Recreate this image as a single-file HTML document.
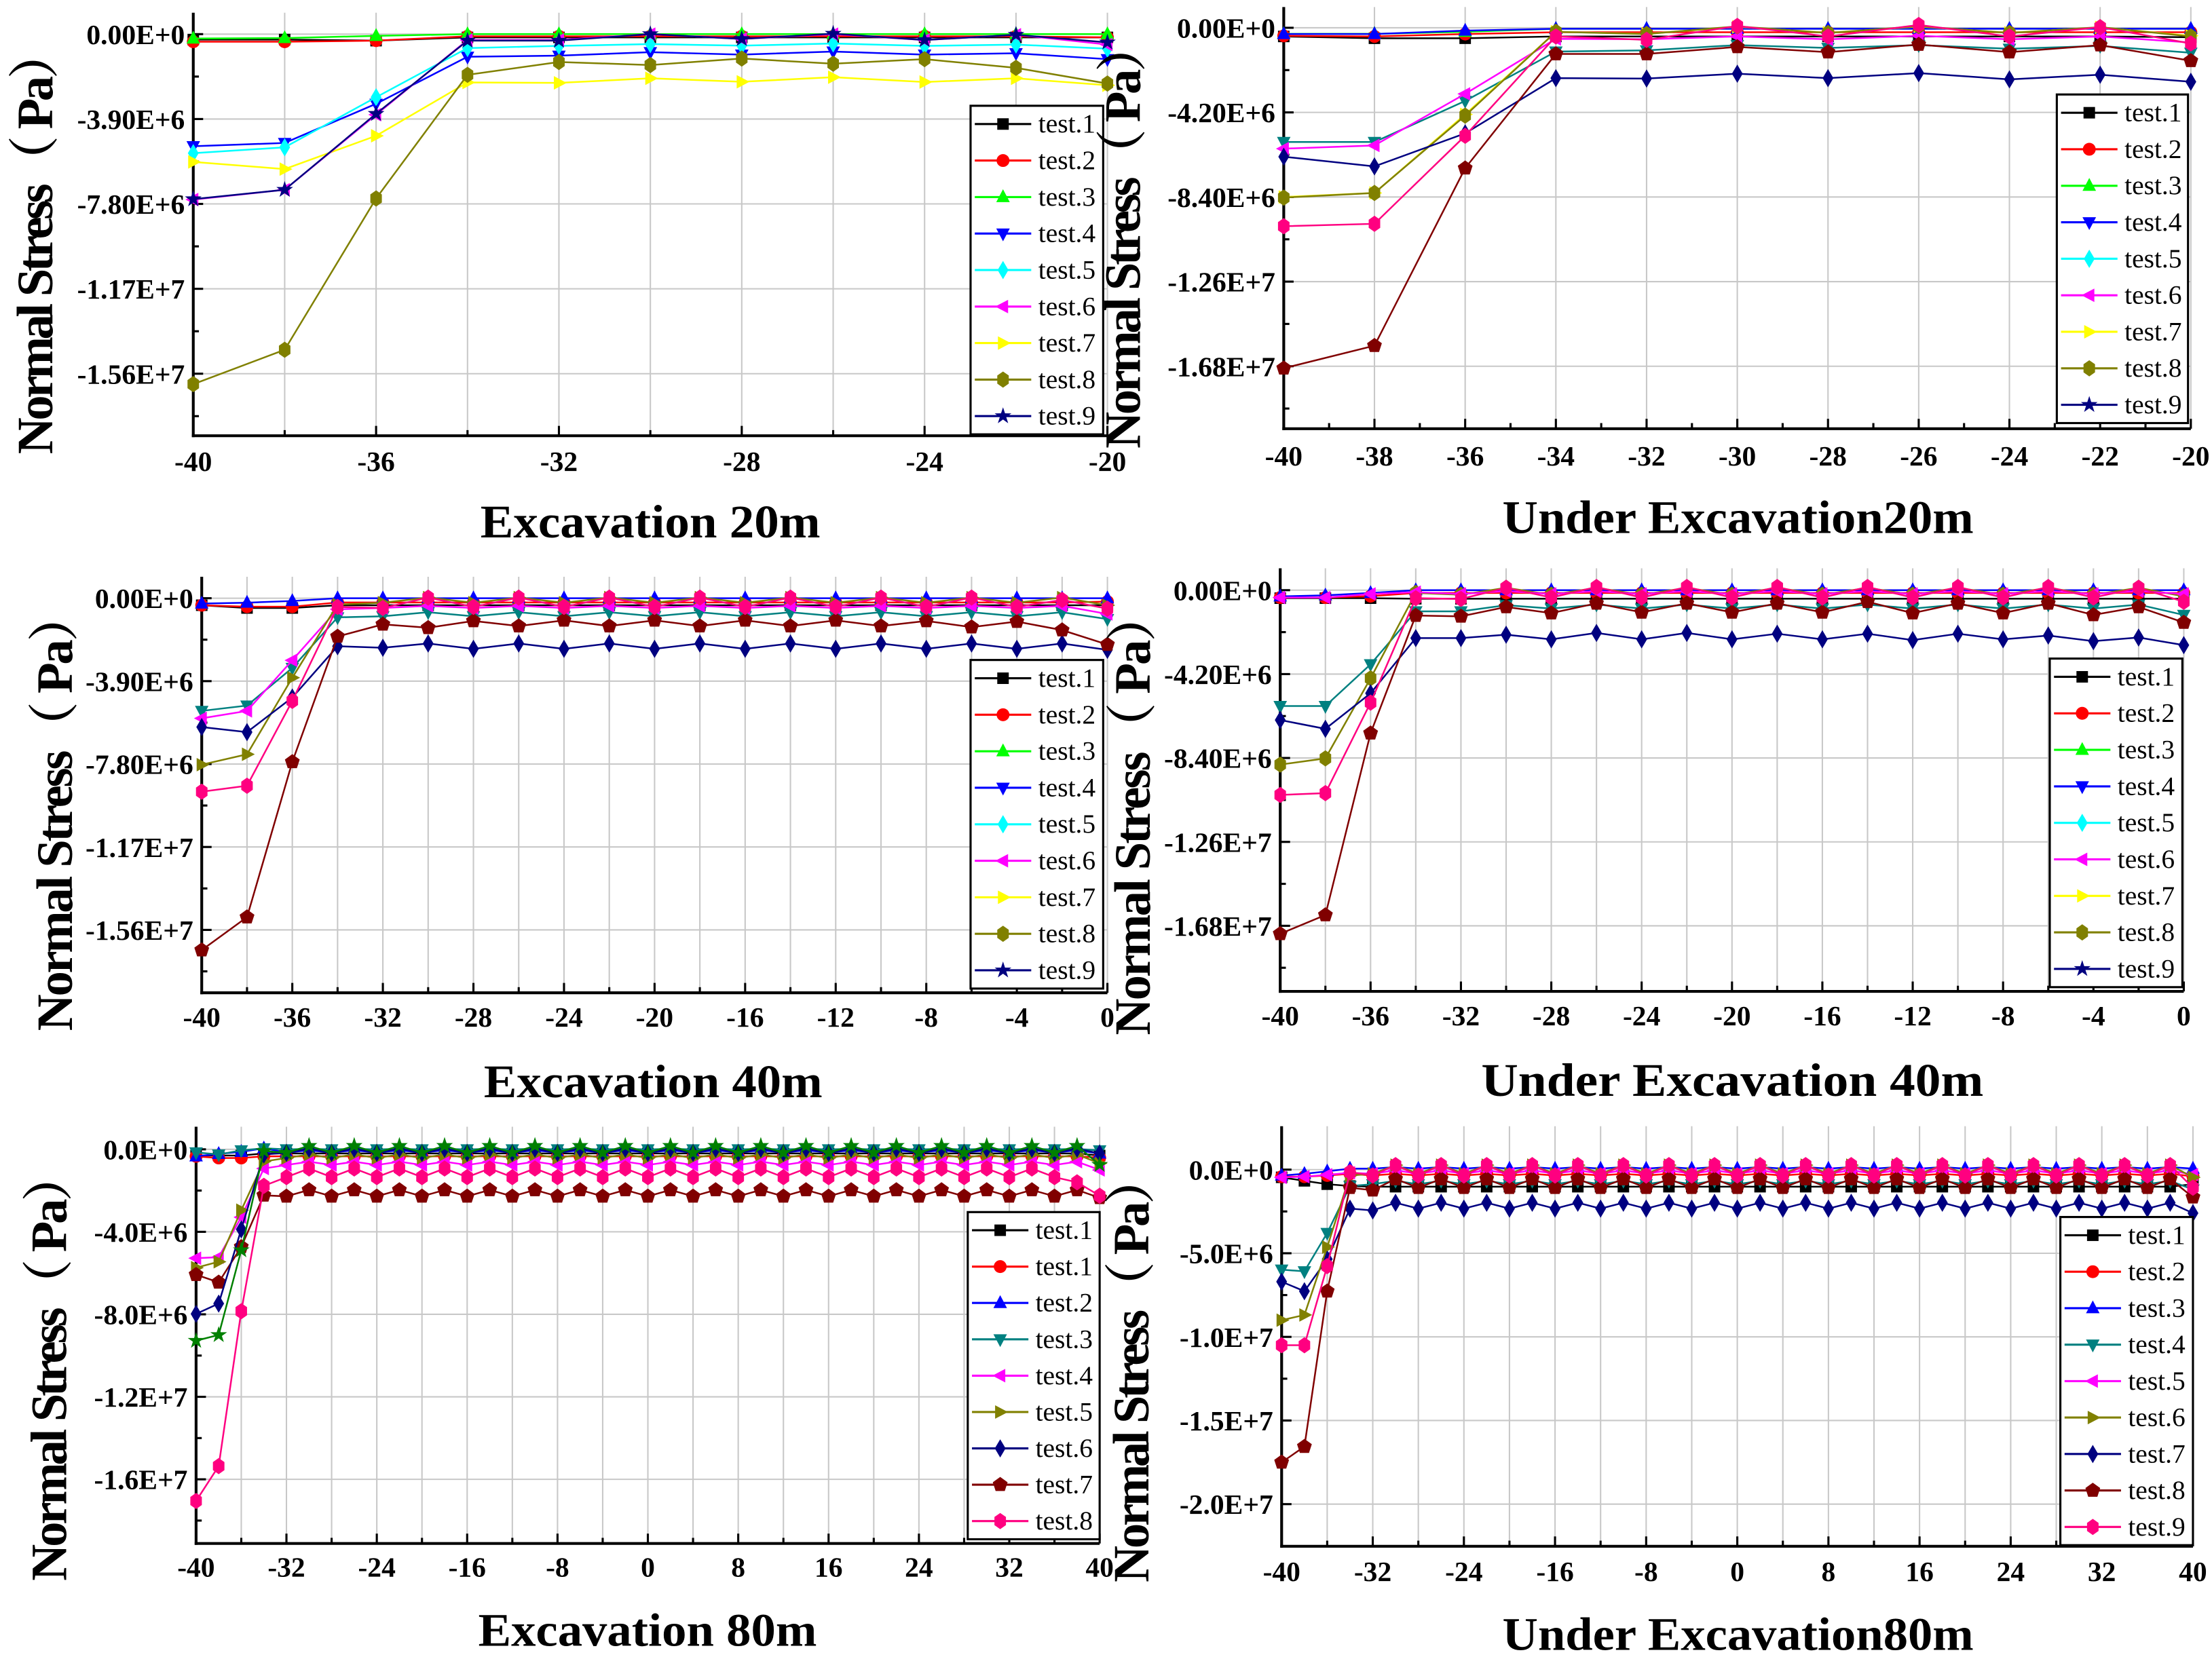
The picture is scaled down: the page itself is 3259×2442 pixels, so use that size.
<!DOCTYPE html>
<html><head><meta charset="utf-8"><title>Normal Stress charts</title>
<style>
html,body{margin:0;padding:0;background:#fff;}
svg{display:block;}
</style></head>
<body>
<svg id="fig" xmlns="http://www.w3.org/2000/svg" width="3259" height="2442" viewBox="0 0 1568 1175" preserveAspectRatio="none"></svg>
<script>
// ---------- categories ----------
const xsA = [-40,-38,-36,-34,-32,-30,-28,-26,-24,-22,-20];
const xsC = [-40,-38,-36,-34,-32,-30,-28,-26,-24,-22,-20,-18,-16,-14,-12,-10,-8,-6,-4,-2,0];
const xsE = [-40,-38,-36,-34,-32,-30,-28,-26,-24,-22,-20,-18,-16,-14,-12,-10,-8,-6,-4,-2,0,2,4,6,8,10,12,14,16,18,20,22,24,26,28,30,32,34,36,38,40];

// ---------- tick labels ----------
const yTicksA = ["0.00E+0","-3.90E+6","-7.80E+6","-1.17E+7","-1.56E+7"];
const yTicksB = ["0.00E+0","-4.20E+6","-8.40E+6","-1.26E+7","-1.68E+7"];
const yTicksE = ["0.0E+0","-4.0E+6","-8.0E+6","-1.2E+7","-1.6E+7"];
const yTicksF = ["0.0E+0","-5.0E+6","-1.0E+7","-1.5E+7","-2.0E+7"];
const xTicksA = [-40,-36,-32,-28,-24,-20];
const xTicksB = [-40,-38,-36,-34,-32,-30,-28,-26,-24,-22,-20];
const xTicksC = [-40,-36,-32,-28,-24,-20,-16,-12,-8,-4,0];
const xTicksE = [-40,-32,-24,-16,-8,0,8,16,24,32,40];
const legendLabelsStd = ["test.1","test.2","test.3","test.4","test.5","test.6","test.7","test.8","test.9"];
const legendLabelsE = ["test.1","test.1","test.2","test.3","test.4","test.5","test.6","test.7","test.8"];

// ---------- series values (units of 1E+6 Pa) ----------
// Panel A: Excavation 20m
const A_t1 = [-0.25,-0.25,-0.3,-0.15,-0.15,-0.15,-0.15,-0.15,-0.15,-0.15,-0.15];
const A_t2 = [-0.35,-0.35,-0.3,-0.1,-0.1,-0.1,-0.1,-0.1,-0.1,-0.1,-0.15];
const A_t3 = [-0.2,-0.18,-0.08,0,0,0,0,0,0,0,0];
const A_t4 = [-5.15,-5.0,-3.2,-1.04,-0.99,-0.83,-0.94,-0.8,-0.94,-0.88,-1.15];
const A_t5 = [-5.47,-5.2,-2.9,-0.64,-0.54,-0.46,-0.53,-0.43,-0.54,-0.48,-0.67];
const A_t6 = [-7.6,-7.15,-3.7,-0.27,-0.27,0,-0.22,0,-0.27,-0.03,-0.48];
const A_t7 = [-5.87,-6.2,-4.67,-2.22,-2.24,-2.03,-2.19,-1.98,-2.2,-2.03,-2.35];
const A_t8 = [-16.08,-14.5,-7.55,-1.87,-1.28,-1.42,-1.12,-1.36,-1.15,-1.55,-2.27];
const A_t9 = [-7.58,-7.15,-3.66,-0.3,-0.3,0,-0.22,0.02,-0.27,-0.03,-0.38];
// Panel B: Under Excavation20m
const B_t1 = [-0.43,-0.52,-0.52,-0.43,-0.43,-0.43,-0.43,-0.43,-0.43,-0.43,-0.47];
const B_t2 = [-0.4,-0.43,-0.31,-0.22,-0.22,-0.22,-0.22,-0.22,-0.22,-0.22,-0.22];
const B_t3 = [-0.3,-0.3,-0.2,-0.05,-0.05,-0.05,-0.05,-0.05,-0.05,-0.05,-0.05];
const B_t4 = [-0.31,-0.31,-0.14,-0.05,-0.05,-0.05,-0.05,-0.05,-0.05,-0.05,-0.05];
const B_t5 = [-5.67,-5.67,-3.63,-1.18,-1.12,-0.86,-1.0,-0.86,-1.04,-0.9,-1.24];
const B_t6 = [-6.0,-5.84,-3.28,-0.55,-0.57,-0.43,-0.57,-0.4,-0.57,-0.43,-0.73];
const B_t7 = [-8.4,-8.2,-4.3,-0.2,-0.3,0.05,-0.25,0.06,-0.25,0.02,-0.4];
const B_t8 = [-8.43,-8.2,-4.36,-0.2,-0.31,0.07,-0.26,0.08,-0.26,0.03,-0.43];
const B_t9 = [-6.4,-6.88,-5.24,-2.5,-2.52,-2.28,-2.5,-2.25,-2.56,-2.33,-2.68];
const B_t10 = [-16.9,-15.78,-6.97,-1.3,-1.3,-0.95,-1.21,-0.83,-1.21,-0.86,-1.64];
const B_t11 = [-9.85,-9.73,-5.36,-0.43,-0.6,0.09,-0.43,0.14,-0.43,0.03,-0.78];
// Panel C: Excavation 40m
const C_t1 = [-0.33,-0.46,-0.46,-0.33,-0.33,-0.33,-0.33,-0.33,-0.33,-0.33,
 -0.33,-0.33,-0.33,-0.33,-0.33,-0.33,-0.33,-0.33,-0.33,-0.33,-0.33];
const C_t2 = [-0.33,-0.4,-0.4,-0.2,-0.2,-0.2,-0.2,-0.2,-0.2,-0.2,
 -0.2,-0.2,-0.2,-0.2,-0.2,-0.2,-0.2,-0.2,-0.2,-0.2,-0.16];
const C_t4 = [-0.25,-0.21,-0.13,0,0,0,0,0,0,0,
 0,0,0,0,0,0,0,0,0,0,0];
const C_t5 = [-5.3,-5.05,-3.28,-0.9,-0.85,-0.66,-0.85,-0.66,-0.85,-0.66,
 -0.85,-0.66,-0.85,-0.66,-0.85,-0.66,-0.85,-0.66,-0.85,-0.66,-0.98];
const C_t6 = [-5.65,-5.3,-2.92,-0.52,-0.46,-0.36,-0.46,-0.36,-0.46,-0.36,
 -0.46,-0.36,-0.46,-0.36,-0.46,-0.36,-0.46,-0.36,-0.46,-0.36,-0.74];
const C_t8 = [-7.83,-7.34,-3.74,-0.3,-0.21,0.03,-0.21,0.03,-0.21,0.03,
 -0.21,0.03,-0.21,0.03,-0.21,0.03,-0.21,0.03,-0.21,0.03,-0.33];
const C_t9 = [-6.06,-6.3,-4.67,-2.26,-2.33,-2.13,-2.38,-2.13,-2.38,-2.13,
 -2.38,-2.13,-2.38,-2.13,-2.38,-2.13,-2.38,-2.13,-2.38,-2.13,-2.43];
const C_t10 = [-16.55,-15.0,-7.7,-1.8,-1.23,-1.39,-1.07,-1.31,-1.04,-1.31,
 -1.04,-1.31,-1.04,-1.31,-1.04,-1.31,-1.07,-1.36,-1.1,-1.5,-2.18];
const C_t11 = [-9.1,-8.82,-4.83,-0.41,-0.46,0.03,-0.41,0.03,-0.41,0.03,
 -0.41,0.03,-0.41,0.03,-0.41,0.03,-0.41,0.03,-0.41,-0.08,-0.49];
// Panel D: Under Excavation 40m
const D_t1 = [-0.4,-0.4,-0.4,-0.43,-0.43,-0.43,-0.43,-0.43,-0.43,-0.43,
 -0.43,-0.43,-0.43,-0.43,-0.43,-0.43,-0.43,-0.43,-0.43,-0.43,-0.43];
const D_t2 = [-0.37,-0.37,-0.3,-0.14,-0.14,-0.14,-0.14,-0.14,-0.14,-0.14,
 -0.14,-0.14,-0.14,-0.14,-0.14,-0.14,-0.14,-0.14,-0.14,-0.14,-0.14];
const D_t4 = [-0.31,-0.26,-0.14,0,0,0,0,0,0,0,
 0,0,0,0,0,0,0,0,0,0,0];
const D_t5 = [-5.8,-5.8,-3.71,-1.06,-1.06,-0.75,-0.92,-0.72,-0.92,-0.72,
 -0.92,-0.72,-0.92,-0.72,-0.92,-0.72,-0.92,-0.72,-0.92,-0.72,-1.24];
const D_t6 = [-0.37,-0.37,-0.19,-0.1,-0.19,-0.05,-0.19,-0.05,-0.19,-0.05,
 -0.19,-0.05,-0.19,-0.05,-0.19,-0.05,-0.19,-0.05,-0.19,-0.05,-0.19];
const D_t8 = [-8.73,-8.42,-4.41,-0.14,-0.23,0.12,-0.23,0.12,-0.23,0.12,
 -0.23,0.12,-0.23,0.12,-0.23,0.12,-0.23,0.12,-0.23,0.12,-0.31];
const D_t9 = [-6.5,-6.94,-5.16,-2.4,-2.4,-2.23,-2.46,-2.14,-2.46,-2.14,
 -2.46,-2.18,-2.46,-2.18,-2.5,-2.18,-2.46,-2.27,-2.55,-2.37,-2.75];
const D_t10 = [-17.2,-16.26,-7.16,-1.27,-1.31,-0.84,-1.15,-0.66,-1.11,-0.66,
 -1.11,-0.66,-1.11,-0.58,-1.15,-0.66,-1.15,-0.66,-1.24,-0.84,-1.62];
const D_t11 = [-10.25,-10.16,-5.63,-0.4,-0.44,0.12,-0.37,0.16,-0.37,0.16,
 -0.37,0.16,-0.37,0.16,-0.37,0.16,-0.37,0.16,-0.37,0.12,-0.58];
// Panel E: Excavation 80m
const E_t1 = [-0.3,-0.3,-0.3,-0.2,-0.2,-0.2,-0.2,-0.2,-0.2,-0.2,
 -0.2,-0.2,-0.2,-0.2,-0.2,-0.2,-0.2,-0.2,-0.2,-0.2,
 -0.2,-0.2,-0.2,-0.2,-0.2,-0.2,-0.2,-0.2,-0.2,-0.2,
 -0.2,-0.2,-0.2,-0.2,-0.2,-0.2,-0.2,-0.2,-0.2,-0.2,
 -0.3];
const E_t2 = [-0.34,-0.42,-0.42,-0.34,-0.34,-0.34,-0.34,-0.34,-0.34,-0.34,
 -0.34,-0.34,-0.34,-0.34,-0.34,-0.34,-0.34,-0.34,-0.34,-0.34,
 -0.34,-0.34,-0.34,-0.34,-0.34,-0.34,-0.34,-0.34,-0.34,-0.34,
 -0.34,-0.34,-0.34,-0.34,-0.34,-0.34,-0.34,-0.34,-0.34,-0.34,
 -0.4];
const E_t3 = [-0.34,-0.22,-0.12,0.05,-0.15,-0.05,-0.15,-0.05,-0.15,-0.05,
 -0.15,-0.05,-0.15,-0.05,-0.15,-0.05,-0.15,-0.05,-0.15,-0.05,
 -0.15,-0.05,-0.15,-0.05,-0.15,-0.05,-0.15,-0.05,-0.15,-0.05,
 -0.15,-0.05,-0.15,-0.05,-0.15,-0.05,-0.15,-0.05,-0.15,-0.05,
 -0.2];
const E_t4 = [-0.15,-0.25,-0.05,0.05,0,0.02,0,0.02,0,0.02,
 0,0.02,0,0.02,0,0.02,0,0.02,0,0.02,
 0,0.02,0,0.02,0,0.02,0,0.02,0,0.02,
 0,0.02,0,0.02,0,0.02,0,0.02,0,0.02,
 -0.05];
const E_t5 = [-5.28,-5.23,-3.29,-0.93,-0.76,-0.6,-0.76,-0.6,-0.76,-0.6,
 -0.76,-0.6,-0.76,-0.6,-0.76,-0.6,-0.76,-0.6,-0.76,-0.6,
 -0.76,-0.6,-0.76,-0.6,-0.76,-0.6,-0.76,-0.6,-0.76,-0.6,
 -0.76,-0.6,-0.76,-0.6,-0.76,-0.6,-0.76,-0.6,-0.76,-0.6,
 -1.0];
const E_t6 = [-5.74,-5.45,-2.95,-0.59,-0.42,-0.25,-0.42,-0.25,-0.42,-0.25,
 -0.42,-0.25,-0.42,-0.25,-0.42,-0.25,-0.42,-0.25,-0.42,-0.25,
 -0.42,-0.25,-0.42,-0.25,-0.42,-0.25,-0.42,-0.25,-0.42,-0.25,
 -0.42,-0.25,-0.42,-0.25,-0.42,-0.25,-0.42,-0.25,-0.42,-0.25,
 -0.68];
const E_t7 = [-7.98,-7.48,-3.88,-0.25,-0.17,0.03,-0.17,0.03,-0.17,0.03,
 -0.17,0.03,-0.17,0.03,-0.17,0.03,-0.17,0.03,-0.17,0.03,
 -0.17,0.03,-0.17,0.03,-0.17,0.03,-0.17,0.03,-0.17,0.03,
 -0.17,0.03,-0.17,0.03,-0.17,0.03,-0.17,0.03,-0.17,0.03,
 -0.2];
const E_t8 = [-6.08,-6.45,-4.73,-2.23,-2.28,-1.97,-2.28,-1.97,-2.28,-1.97,
 -2.28,-1.97,-2.28,-1.97,-2.28,-1.97,-2.28,-1.97,-2.28,-1.97,
 -2.28,-1.97,-2.28,-1.97,-2.28,-1.97,-2.28,-1.97,-2.28,-1.97,
 -2.28,-1.97,-2.28,-1.97,-2.28,-1.97,-2.28,-1.97,-2.28,-1.97,
 -2.35];
const E_t9 = [-17.05,-15.36,-7.85,-1.77,-1.35,-0.93,-1.35,-0.93,-1.35,-0.93,
 -1.35,-0.93,-1.35,-0.93,-1.35,-0.93,-1.35,-0.93,-1.35,-0.93,
 -1.35,-0.93,-1.35,-0.93,-1.35,-0.93,-1.35,-0.93,-1.35,-0.93,
 -1.35,-0.93,-1.35,-0.93,-1.35,-0.93,-1.35,-0.93,-1.35,-1.6,
 -2.25];
const E_t10 = [-9.28,-9.0,-4.89,-0.08,-0.17,0.17,-0.17,0.17,-0.17,0.17,
 -0.17,0.17,-0.17,0.17,-0.17,0.17,-0.17,0.17,-0.17,0.17,
 -0.17,0.17,-0.17,0.17,-0.17,0.17,-0.17,0.17,-0.17,0.17,
 -0.17,0.17,-0.17,0.17,-0.17,0.17,-0.17,0.17,-0.17,0.17,
 -0.75];
// Panel F: Under Excavation80m
const F_t1 = [-0.46,-0.67,-0.87,-0.98,-1.02,-1.02,-1.02,-1.02,-1.02,-1.02,
 -1.02,-1.02,-1.02,-1.02,-1.02,-1.02,-1.02,-1.02,-1.02,-1.02,
 -1.02,-1.02,-1.02,-1.02,-1.02,-1.02,-1.02,-1.02,-1.02,-1.02,
 -1.02,-1.02,-1.02,-1.02,-1.02,-1.02,-1.02,-1.02,-1.02,-1.02,
 -0.87];
const F_t2 = [-0.42,-0.42,-0.35,-0.25,-0.35,-0.25,-0.35,-0.25,-0.35,-0.25,
 -0.35,-0.25,-0.35,-0.25,-0.35,-0.25,-0.35,-0.25,-0.35,-0.25,
 -0.35,-0.25,-0.35,-0.25,-0.35,-0.25,-0.35,-0.25,-0.35,-0.25,
 -0.35,-0.25,-0.35,-0.25,-0.35,-0.25,-0.35,-0.25,-0.35,-0.25,
 -0.4];
const F_t3 = [-0.35,-0.25,-0.1,0.06,0.06,0.15,0.06,0.15,0.06,0.15,
 0.06,0.15,0.06,0.15,0.06,0.15,0.06,0.15,0.06,0.15,
 0.06,0.15,0.06,0.15,0.06,0.15,0.06,0.15,0.06,0.15,
 0.06,0.15,0.06,0.15,0.06,0.15,0.06,0.15,0.06,0.15,
 0.06];
const F_t4 = [-5.98,-6.08,-3.79,-0.98,-0.87,-0.67,-0.87,-0.67,-0.87,-0.67,
 -0.87,-0.67,-0.87,-0.67,-0.87,-0.67,-0.87,-0.67,-0.87,-0.67,
 -0.87,-0.67,-0.87,-0.67,-0.87,-0.67,-0.87,-0.67,-0.87,-0.67,
 -0.87,-0.67,-0.87,-0.67,-0.87,-0.67,-0.87,-0.67,-0.87,-0.67,
 -1.19];
const F_t5 = [-0.46,-0.42,-0.31,-0.19,-0.25,-0.04,-0.25,-0.04,-0.25,-0.04,
 -0.25,-0.04,-0.25,-0.04,-0.25,-0.04,-0.25,-0.04,-0.25,-0.04,
 -0.25,-0.04,-0.25,-0.04,-0.25,-0.04,-0.25,-0.04,-0.25,-0.04,
 -0.25,-0.04,-0.25,-0.04,-0.25,-0.04,-0.25,-0.04,-0.25,-0.04,
 -0.3];
const F_t6 = [-9.0,-8.69,-4.63,-0.35,-0.25,0.27,-0.25,0.27,-0.25,0.27,
 -0.25,0.27,-0.25,0.27,-0.25,0.27,-0.25,0.27,-0.25,0.27,
 -0.25,0.27,-0.25,0.27,-0.25,0.27,-0.25,0.27,-0.25,0.27,
 -0.25,0.27,-0.25,0.27,-0.25,0.27,-0.25,0.27,-0.25,0.27,
 -0.46];
const F_t7 = [-6.7,-7.27,-5.35,-2.33,-2.44,-1.98,-2.33,-1.98,-2.33,-1.98,
 -2.33,-1.98,-2.33,-1.98,-2.33,-1.98,-2.33,-1.98,-2.33,-1.98,
 -2.33,-1.98,-2.33,-1.98,-2.33,-1.98,-2.33,-1.98,-2.33,-1.98,
 -2.33,-1.98,-2.33,-1.98,-2.33,-1.98,-2.33,-1.98,-2.33,-1.98,
 -2.6];
const F_t8 = [-17.5,-16.56,-7.27,-1.08,-1.23,-0.56,-1.08,-0.56,-1.08,-0.56,
 -1.08,-0.56,-1.08,-0.56,-1.08,-0.56,-1.08,-0.56,-1.08,-0.56,
 -1.08,-0.56,-1.08,-0.56,-1.08,-0.56,-1.08,-0.56,-1.08,-0.56,
 -1.08,-0.56,-1.08,-0.56,-1.08,-0.56,-1.08,-0.56,-1.08,-0.56,
 -1.65];
const F_t9 = [-10.5,-10.5,-5.77,-0.15,-0.35,0.27,-0.35,0.27,-0.35,0.27,
 -0.35,0.27,-0.35,0.27,-0.35,0.27,-0.35,0.27,-0.35,0.27,
 -0.35,0.27,-0.35,0.27,-0.35,0.27,-0.35,0.27,-0.35,0.27,
 -0.35,0.27,-0.35,0.27,-0.35,0.27,-0.35,0.27,-0.35,0.27,
 -1.08];

// ---------- drawing ----------
const NS = 'http://www.w3.org/2000/svg';
const svg = document.getElementById('fig');
function mk(tag, attrs, parent){
  const e = document.createElementNS(NS, tag);
  for (const k in attrs) e.setAttribute(k, attrs[k]);
  parent.appendChild(e);
  return e;
}
const SHAPES = {
  up: [[0,-1.15],[1,0.75],[-1,0.75]],
  dn: [[0,1.15],[1,-0.75],[-1,-0.75]],
  lt: [[-1.15,0],[0.75,-1],[0.75,1]],
  rt: [[1.15,0],[-0.75,-1],[-0.75,1]],
  di: [[0,-1.35],[0.8,0],[0,1.35],[-0.8,0]],
  hx: [[0,-1.2],[0.85,-0.6],[0.85,0.6],[0,1.2],[-0.85,0.6],[-0.85,-0.6]]
};
function shapePts(shape){
  if (SHAPES[shape]) return SHAPES[shape];
  const pts = [];
  if (shape === 'pt'){
    for (let k=0;k<5;k++){const a=(-90+72*k)*Math.PI/180; pts.push([1.15*Math.cos(a),1.15*Math.sin(a)]);}
  } else if (shape === 'st'){
    for (let k=0;k<10;k++){const a=(-90+36*k)*Math.PI/180; const rr=k%2?0.5:1.3; pts.push([rr*Math.cos(a),rr*Math.sin(a)]);}
  }
  return pts;
}
function marker(g, shape, cx, cy, color, r){
  let m;
  if (shape === 'sq') m = mk('rect', {x:cx-r*0.85, y:cy-r*0.85, width:r*1.7, height:r*1.7, fill:color}, g);
  else if (shape === 'ci') m = mk('circle', {cx:cx, cy:cy, r:r*0.95, fill:color}, g);
  else m = mk('polygon', {points: shapePts(shape).map(p=>(cx+p[0]*r).toFixed(2)+','+(cy+p[1]*r).toFixed(2)).join(' '), fill:color}, g);
  return m;
}
const SERIF = '"Liberation Serif", "Noto Serif CJK SC", serif';

function drawPanel(cfg, xs, series, legend){
  const g = mk('g', {}, svg);
  
  
  const X = v => cfg.L + (v - cfg.xmin) / (cfg.xmax - cfg.xmin) * (cfg.R - cfg.L);
  const Y = v => cfg.y0 - v / cfg.yunit * cfg.ypx;
  // grid
  const grid = mk('g', {stroke:'#c8c8c8', 'stroke-width':1}, g);
  
  
  for (let v = cfg.xmin + cfg.xgrid; v <= cfg.xmax + 1e-9; v += cfg.xgrid){
    mk('line', {x1:X(v), x2:X(v), y1:cfg.T, y2:cfg.B}, grid);
  }
  cfg.yticks.forEach((lab, i) => {
    const yy = Y(-i * cfg.yunit);
    mk('line', {x1:cfg.L, x2:cfg.R, y1:yy, y2:yy}, grid);
  });
  // axes
  const ax = mk('g', {stroke:'#000', 'stroke-width':2, fill:'none'}, g);
  
  
  mk('line', {x1:cfg.L, x2:cfg.L, y1:cfg.T, y2:cfg.B+1}, ax);
  mk('line', {x1:cfg.L-1, x2:cfg.R, y1:cfg.B, y2:cfg.B}, ax);
  // x ticks
  const tk = mk('g', {stroke:'#000', 'stroke-width':1.5}, g);
  for (let v = cfg.xmin; v <= cfg.xmax + 1e-9; v += cfg.xminor){
    const major = cfg.xticks.indexOf(v) >= 0;
    mk('line', {x1:X(v), x2:X(v), y1:cfg.B, y2:cfg.B - (major?7:4)}, tk);
  }
  cfg.yticks.forEach((lab, i) => {
    const yy = Y(-i * cfg.yunit);
    mk('line', {x1:cfg.L, x2:cfg.L+7, y1:yy, y2:yy}, tk);
    const ym = Y(-(i+0.5) * cfg.yunit);
    if (ym < cfg.B - 2) mk('line', {x1:cfg.L, x2:cfg.L+4, y1:ym, y2:ym}, tk);
  });
  // tick labels
  cfg.xticks.forEach(v => {
    const t = mk('text', {x:X(v), y:cfg.xlabY, 'text-anchor':'middle', 'font-family':SERIF, 'font-size':20, 'font-weight':'bold', fill:'#000'}, g);
    t.textContent = String(v);
    
    
  });
  cfg.yticks.forEach((lab, i) => {
    const t = mk('text', {x:cfg.L-6, y:Y(-i*cfg.yunit)+7, 'text-anchor':'end', 'font-family':SERIF, 'font-size':20, 'font-weight':'bold', fill:'#000'}, g);
    t.textContent = lab;
    
    
  });
  // series
  series.forEach((s, si) => {
    const sg = mk('g', {}, g);
    
    
    const pts = s.vals.map((v, i) => X(xs[i]).toFixed(2) + ',' + Y(v).toFixed(2)).join(' ');
    const pl = mk('polyline', {points:pts, fill:'none', stroke:s.color, 'stroke-width':1.2}, sg);
    
    
    s.vals.forEach((v, i) => {
      const m = marker(sg, s.shape, X(xs[i]), Y(v), s.color, 4.8);
      
      
    });
  });
  // legend
  const lg = mk('g', {}, g);
  
  
  const lx = cfg.leg[0], ly = cfg.leg[1], lw = cfg.leg[2], lh = cfg.leg[3];
  mk('rect', {x:lx, y:ly, width:lw, height:lh, fill:'#fff', stroke:'#000', 'stroke-width':1.5}, lg);
  const step = lh / legend.length;
  legend.forEach((e, i) => {
    const cy = ly + step * (i + 0.5);
    const eg = mk('g', {}, lg);
    
    
    mk('line', {x1:lx+3, x2:lx+43, y1:cy, y2:cy, stroke:e.color, 'stroke-width':1.5}, eg);
    marker(eg, e.shape, lx+23, cy, e.color, 4.8);
    const t = mk('text', {x:lx+48, y:cy+6, 'font-family':SERIF, 'font-size':19, fill:'#000'}, eg);
    t.textContent = e.label;
  });
  // titles
  const tt = mk('text', {x:cfg.title[1], y:cfg.title[2], 'text-anchor':'middle', 'font-family':SERIF, 'font-size':33, 'font-weight':'bold', fill:'#000', textLength:cfg.title[3], lengthAdjust:'spacingAndGlyphs'}, g);
  tt.textContent = cfg.title[0];
  
  
  const yt = mk('text', {x:0, y:0, transform:'translate(' + (cfg.ytitle[0]+13) + ',' + ((cfg.ytitle[1]+cfg.ytitle[2])/2) + ') rotate(-90)', 'text-anchor':'middle', 'font-family':SERIF, 'font-size':36, 'font-weight':'bold', fill:'#000', textLength:(cfg.ytitle[2]-cfg.ytitle[1]), lengthAdjust:'spacing'}, g);
  yt.textContent = 'Normal Stress（ Pa）';
  
  
}

const COL = {k:'#000000', r:'#ff0000', g:'#00ff00', b:'#0000ff', c:'#00ffff', m:'#ff00ff', y:'#ffff00', o:'#808000', n:'#000080', dr:'#800000', p:'#ff0080', t:'#008080', gr:'#008000'};
function stdLegend(labels, colors, shapes){
  return labels.map((l, i) => ({label:l, color:colors[i], shape:shapes[i]}));
}
const stdColors = [COL.k,COL.r,COL.g,COL.b,COL.c,COL.m,COL.y,COL.o,COL.n];
const stdShapes = ['sq','ci','up','dn','di','lt','rt','hx','st'];
const eColors = [COL.k,COL.r,COL.b,COL.t,COL.m,COL.o,COL.n,COL.dr,COL.p];
const eShapes = ['sq','ci','up','dn','lt','rt','di','pt','hx'];

// Panel A
drawPanel({name:'panel-excavation-20m', L:137, R:785, T:9, B:309, xmin:-40, xmax:-20, xgrid:2, xminor:2, xticks:xTicksA,
  y0:24.2, ypx:60.2, yunit:3.9, yticks:yTicksA, xlabY:334, leg:[688,75,94,233],
  title:['Excavation 20m',461,381,241], ytitle:[24,20,322]},
  xsA, [
  {name:'test-1', color:COL.k, shape:'sq', vals:A_t1},
  {name:'test-2', color:COL.r, shape:'ci', vals:A_t2},
  {name:'test-3', color:COL.g, shape:'up', vals:A_t3},
  {name:'test-4', color:COL.b, shape:'dn', vals:A_t4},
  {name:'test-5', color:COL.c, shape:'di', vals:A_t5},
  {name:'test-7', color:COL.y, shape:'rt', vals:A_t7},
  {name:'test-8', color:COL.o, shape:'hx', vals:A_t8},
  {name:'test-6', color:COL.m, shape:'lt', vals:A_t6},
  {name:'test-9', color:COL.n, shape:'st', vals:A_t9}
  ], stdLegend(legendLabelsStd, stdColors, stdShapes));

// Panel B
drawPanel({name:'panel-under-excavation-20m', L:910, R:1553, T:5, B:304, xmin:-40, xmax:-20, xgrid:2, xminor:1, xticks:xTicksB,
  y0:19.7, ypx:60, yunit:4.2, yticks:yTicksB, xlabY:330, leg:[1458,67,93,233],
  title:['Under Excavation20m',1232,378,334], ytitle:[795,15,318]},
  xsA, [
  {name:'test-1', color:COL.k, shape:'sq', vals:B_t1},
  {name:'test-2', color:COL.r, shape:'ci', vals:B_t2},
  {name:'test-3', color:COL.g, shape:'up', vals:B_t3},
  {name:'test-4', color:COL.b, shape:'up', vals:B_t4},
  {name:'test-5', color:COL.t, shape:'dn', vals:B_t5},
  {name:'test-6', color:COL.m, shape:'lt', vals:B_t6},
  {name:'test-7', color:COL.y, shape:'rt', vals:B_t7},
  {name:'test-8', color:COL.o, shape:'hx', vals:B_t8},
  {name:'test-9', color:COL.n, shape:'di', vals:B_t9},
  {name:'test-10', color:COL.dr, shape:'pt', vals:B_t10},
  {name:'test-11', color:COL.p, shape:'hx', vals:B_t11}
  ], stdLegend(legendLabelsStd, stdColors, stdShapes));

// Panel C
drawPanel({name:'panel-excavation-40m', L:143, R:785, T:409, B:704, xmin:-40, xmax:0, xgrid:2, xminor:2, xticks:xTicksC,
  y0:424.2, ypx:58.8, yunit:3.9, yticks:yTicksA, xlabY:728, leg:[688,468,94,233],
  title:['Excavation 40m',463,778,240], ytitle:[38,419,731]},
  xsC, [
  {name:'test-1', color:COL.k, shape:'sq', vals:C_t1},
  {name:'test-2', color:COL.r, shape:'ci', vals:C_t2},
  {name:'test-4', color:COL.b, shape:'up', vals:C_t4},
  {name:'test-5', color:COL.t, shape:'dn', vals:C_t5},
  {name:'test-6', color:COL.m, shape:'lt', vals:C_t6},
  {name:'test-8', color:COL.o, shape:'rt', vals:C_t8},
  {name:'test-9', color:COL.n, shape:'di', vals:C_t9},
  {name:'test-10', color:COL.dr, shape:'pt', vals:C_t10},
  {name:'test-11', color:COL.p, shape:'hx', vals:C_t11}
  ], stdLegend(legendLabelsStd, stdColors, stdShapes));

// Panel D
drawPanel({name:'panel-under-excavation-40m', L:907.5, R:1548, T:403, B:703, xmin:-40, xmax:0, xgrid:2, xminor:2, xticks:xTicksC,
  y0:418.5, ypx:59.5, yunit:4.2, yticks:yTicksB, xlabY:727, leg:[1453,467,94,233],
  title:['Under Excavation 40m',1228,777,356], ytitle:[802,419,734]},
  xsC, [
  {name:'test-1', color:COL.k, shape:'sq', vals:D_t1},
  {name:'test-2', color:COL.r, shape:'ci', vals:D_t2},
  {name:'test-4', color:COL.b, shape:'up', vals:D_t4},
  {name:'test-5', color:COL.t, shape:'dn', vals:D_t5},
  {name:'test-8', color:COL.o, shape:'hx', vals:D_t8},
  {name:'test-9', color:COL.n, shape:'di', vals:D_t9},
  {name:'test-10', color:COL.dr, shape:'pt', vals:D_t10},
  {name:'test-6', color:COL.m, shape:'lt', vals:D_t6},
  {name:'test-11', color:COL.p, shape:'hx', vals:D_t11}
  ], stdLegend(legendLabelsStd, stdColors, stdShapes));

// Panel E
drawPanel({name:'panel-excavation-80m', L:139, R:779.5, T:799, B:1094.5, xmin:-40, xmax:40, xgrid:4, xminor:4, xticks:xTicksE,
  y0:815, ypx:58.5, yunit:4.0, yticks:yTicksE, xlabY:1118, leg:[686,859.5,93.5,232],
  title:['Excavation 80m',459,1167,240], ytitle:[34,816,1121]},
  xsE, [
  {name:'test-1', color:COL.k, shape:'sq', vals:E_t1},
  {name:'test-1b', color:COL.r, shape:'ci', vals:E_t2},
  {name:'test-2', color:COL.b, shape:'up', vals:E_t3},
  {name:'test-3', color:COL.t, shape:'dn', vals:E_t4},
  {name:'test-4', color:COL.m, shape:'lt', vals:E_t5},
  {name:'test-5', color:COL.o, shape:'rt', vals:E_t6},
  {name:'test-7', color:COL.dr, shape:'pt', vals:E_t8},
  {name:'test-8', color:COL.p, shape:'hx', vals:E_t9},
  {name:'test-6', color:COL.n, shape:'di', vals:E_t7},
  {name:'test-9', color:COL.gr, shape:'st', vals:E_t10}
  ], stdLegend(legendLabelsE, eColors, eShapes));

// Panel F
drawPanel({name:'panel-under-excavation-80m', L:908.5, R:1554.5, T:798.6, B:1096.5, xmin:-40, xmax:40, xgrid:4, xminor:4, xticks:xTicksE,
  y0:829.4, ypx:59.3, yunit:5.0, yticks:yTicksF, xlabY:1121, leg:[1460.5,863,94,232.7],
  title:['Under Excavation80m',1232,1170,334], ytitle:[801,818,1122]},
  xsE, [
  {name:'test-1', color:COL.k, shape:'sq', vals:F_t1},
  {name:'test-2', color:COL.r, shape:'ci', vals:F_t2},
  {name:'test-3', color:COL.b, shape:'up', vals:F_t3},
  {name:'test-4', color:COL.t, shape:'dn', vals:F_t4},
  {name:'test-5', color:COL.m, shape:'lt', vals:F_t5},
  {name:'test-7', color:COL.n, shape:'di', vals:F_t7},
  {name:'test-8', color:COL.dr, shape:'pt', vals:F_t8},
  {name:'test-6', color:COL.o, shape:'rt', vals:F_t6},
  {name:'test-9', color:COL.p, shape:'hx', vals:F_t9}
  ], stdLegend(legendLabelsStd, eColors, eShapes));
</script>
</body></html>
